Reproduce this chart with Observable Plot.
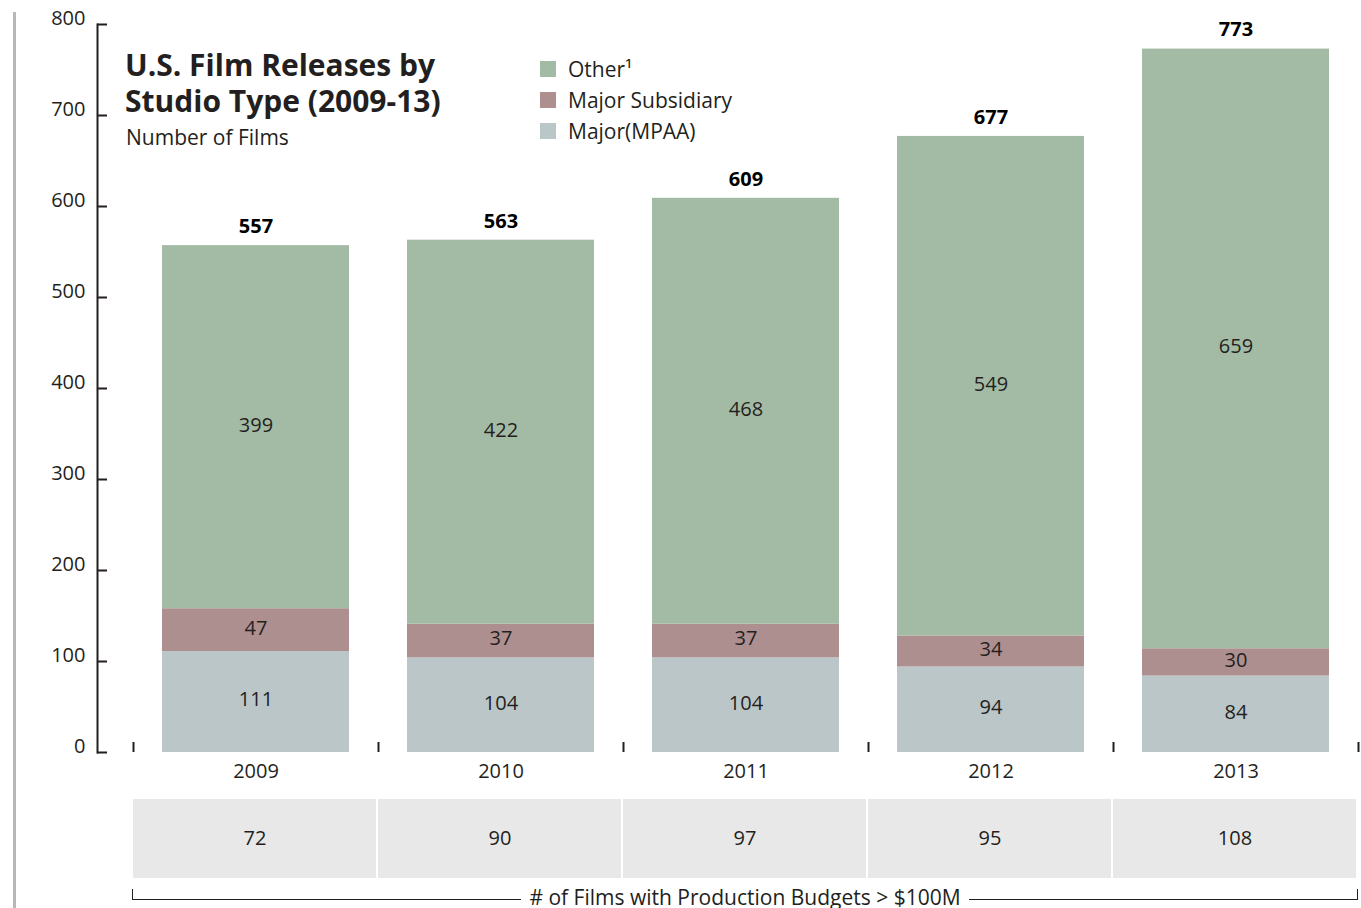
<!DOCTYPE html>
<html>
<head>
<meta charset="utf-8">
<script src="https://cdn.jsdelivr.net/npm/d3@7"></script>
<script src="https://cdn.jsdelivr.net/npm/@observablehq/plot@0.6"></script>
<style>
  html, body { margin: 0; padding: 0; background: #fff; }
  body { font-family: "Open Sans", "Noto Sans", sans-serif; color: #231f20; }
  #wrap { position: relative; width: 1361px; height: 908px; overflow: hidden; }
  #wrap svg { display: block; }
  .leftline { position: absolute; left: 13px; top: 12px; width: 3px; height: 896px; background: #b8b8b8; }
  .title { position: absolute; left: 125px; font-weight: 700; font-size: 30px; line-height: 32px; white-space: nowrap; }
  .subtitle { position: absolute; left: 126px; top: 127px; font-size: 21px; line-height: 20px; white-space: nowrap; }
  .lg-sw { position: absolute; left: 540px; width: 16px; height: 16px; }
  .lg-tx { position: absolute; left: 568px; font-size: 21px; line-height: 20px; white-space: nowrap; }
  .bracket { position: absolute; left: 132px; top: 889px; width: 1224px; height: 10px;
             border-left: 1.5px solid #231f20; border-right: 1.5px solid #231f20; border-bottom: 1.5px solid #231f20; }
  .bracket-label { position: absolute; left: 132px; width: 1226px; top: 887px; text-align: center; font-size: 21px; line-height: 20px; }
  .bracket-label span { background: #fff; padding: 0 8px; }
</style>
</head>
<body>
<div id="wrap">
  <div id="chart"></div>
  <div id="table"></div>
  <div class="leftline"></div>
  <div class="title" style="top:49px">U.S. Film Releases by</div>
  <div class="title" style="top:85px">Studio Type (2009-13)</div>
  <div class="subtitle">Number of Films</div>
  <div id="legend"></div>
  <div class="bracket"></div>
  <div class="bracket-label"><span># of Films with Production Budgets &gt; $100M</span></div>
</div>
<script>
// ---- data ----
const years = ["2009", "2010", "2011", "2012", "2013"];
const seriesNames = ["Major(MPAA)", "Major Subsidiary", "Other"];
const legendLabels = ["Other\u00B9", "Major Subsidiary", "Major(MPAA)"];
const majorMPAA = [111, 104, 104, 94, 84];
const majorSubsidiary = [47, 37, 37, 34, 30];
const other = [399, 422, 468, 549, 659];
const totals = [557, 563, 609, 677, 773];
const bigBudget = [72, 90, 97, 95, 108];
const yTicks = [0, 100, 200, 300, 400, 500, 600, 700, 800];
const seriesColors = ["#bac6c8", "#ae8f90", "#a3bba5"];

// ---- build long table ----
const seriesValues = [majorMPAA, majorSubsidiary, other];
const rows = [];
years.forEach((year, i) => {
  seriesNames.forEach((s, j) => rows.push({year, series: s, value: seriesValues[j][i]}));
});
const totalRows = years.map((year, i) => ({year, total: totals[i]}));
const budgetRows = years.map((year, i) => ({year, n: bigBudget[i]}));

const ink = "#231f20";
const font = '"Open Sans", "Noto Sans", sans-serif';

const chart = Plot.plot({
  width: 1361,
  height: 790,
  marginTop: 24,
  marginBottom: 38,
  marginLeft: 97,
  marginRight: 3,
  style: {fontFamily: font, fontSize: "20px", color: ink, background: "transparent", overflow: "visible"},
  x: {domain: years, range: [133, 1358], paddingInner: 0.237, paddingOuter: 0.1185, label: null},
  y: {domain: [0, 800], range: [752, 24], label: null},
  color: {domain: seriesNames, range: seriesColors},
  marks: [
    Plot.barY(rows, {x: "year", y: "value", fill: "series"}),
    Plot.text(rows, Plot.stackY({x: "year", y: "value", text: "value", fill: ink, fontSize: 20, dy: -2})),
    Plot.text(totalRows, {x: "year", y: "total", text: "total", dy: -19, fontWeight: "bold", fontSize: 20, fill: "#000"}),
    Plot.frame({anchor: "left", stroke: ink, strokeWidth: 2}),
    Plot.axisY({ticks: yTicks, tickSize: 10, dx: 10, tickFormat: () => "", stroke: ink, strokeWidth: 2}),
    Plot.axisY({ticks: yTicks, tickSize: 0, tickPadding: 12, dy: -6, fontSize: 20, fill: ink}),
    Plot.axisX({tickSize: 0, tickPadding: 11, fontSize: 20, fill: ink}),
    Plot.ruleX(years, {x: d => d, y1: 0, y2: 11, dx: -122.5, stroke: ink, strokeWidth: 2}),
    Plot.ruleX(years.slice(-1), {x: d => d, y1: 0, y2: 11, dx: 122.5, stroke: ink, strokeWidth: 2})
  ]
});
document.getElementById("chart").appendChild(chart);

const table = Plot.plot({
  width: 1361,
  height: 118,
  marginTop: 9,
  marginBottom: 30,
  marginLeft: 97,
  marginRight: 3,
  style: {fontFamily: font, fontSize: "20px", color: ink, background: "transparent"},
  x: {domain: years, range: [132, 1357], padding: 0, axis: null},
  marks: [
    Plot.cell(budgetRows, {x: "year", fill: "#e8e8e8", insetLeft: 1, insetRight: 1}),
    Plot.text(budgetRows, {x: "year", text: "n", fontSize: 20, fill: ink})
  ]
});
document.getElementById("table").appendChild(table);

// legend
const legend = document.getElementById("legend");
const legendColors = ["#a3bba5", "#ae8f90", "#bac6c8"];
const legendTops = [61, 92, 123];
legendLabels.forEach((lab, i) => {
  const sw = document.createElement("div");
  sw.className = "lg-sw";
  sw.style.top = legendTops[i] + "px";
  sw.style.background = legendColors[i];
  legend.appendChild(sw);
  const tx = document.createElement("div");
  tx.className = "lg-tx";
  tx.style.top = (legendTops[i] - 2) + "px";
  tx.textContent = lab;
  legend.appendChild(tx);
});
</script>
</body>
</html>
